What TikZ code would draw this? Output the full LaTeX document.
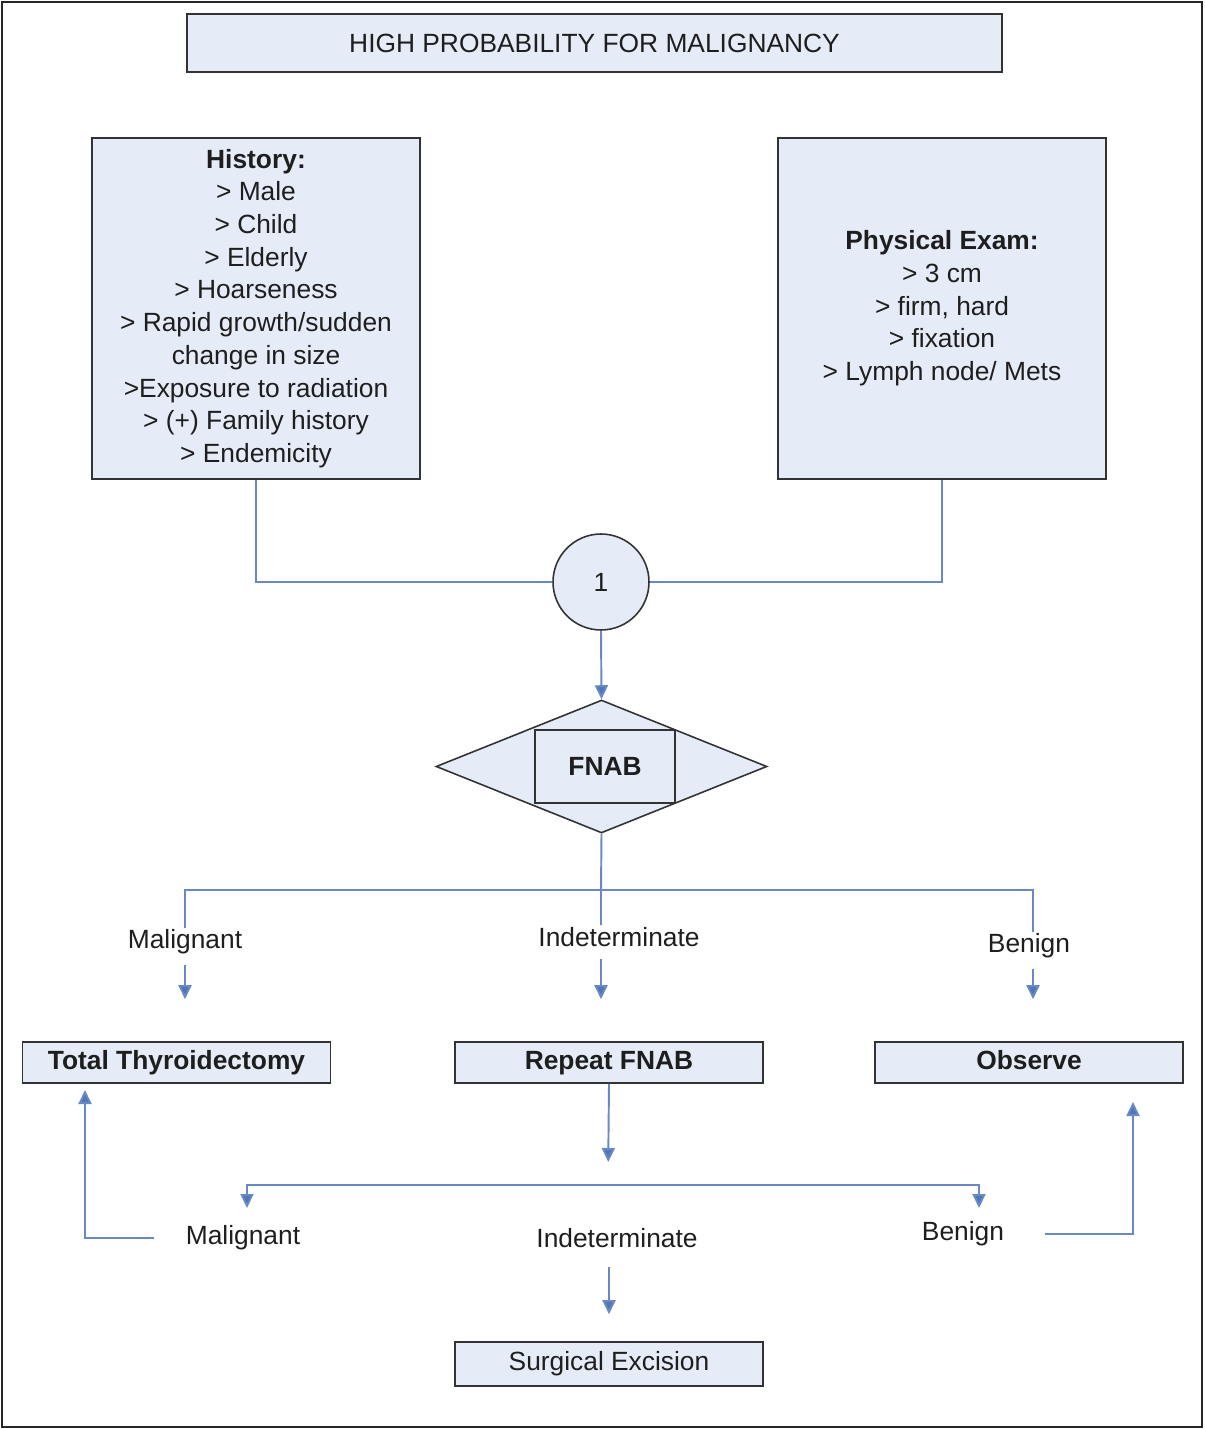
\documentclass[tikz,border=0pt]{standalone}
\usepackage{fontspec}
\setmainfont{Liberation Sans}
\usepackage{xcolor}
\usepackage{tikz}
\usetikzlibrary{arrows.meta, positioning, shapes.geometric}

\definecolor{boxfill}{RGB}{230,236,247}
\definecolor{linkblue}{RGB}{104,137,196}
\definecolor{tipblue}{RGB}{79,118,182}
\definecolor{inkgray}{RGB}{30,30,30}

\begin{document}
\begin{tikzpicture}[
    x=0.02cm, y=-0.02cm,
    every node/.style={font=\fontsize{15}{18.6}\selectfont, text=inkgray},
    box/.style={draw=black!80, fill=boxfill, line width=0.9pt, inner sep=2pt, align=center},
    result/.style={box, minimum width=6.16cm, minimum height=0.82cm, text height=11pt, text depth=3.5pt},
    lbl/.style={fill=white, inner sep=1pt},
    link/.style={draw=linkblue, line width=1.1pt},
    arrow/.style={link, -{Triangle[length=2.8mm, width=2.6mm, fill=tipblue]}},
]
% Outer frame and size
\useasboundingbox (0,0) rectangle (1204,1429);
\draw[line width=1.2pt, black!85] (2,2) rectangle (1202,1427);

% Title
\node[box, minimum width=16.3cm, minimum height=1.16cm] (title) at (594.5,43) {HIGH PROBABILITY FOR MALIGNANCY};

% Findings
\node[box, minimum width=6.56cm, minimum height=6.82cm] (hist) at (256,308.5)
    {\textbf{History:}\\> Male\\> Child\\> Elderly\\> Hoarseness\\> Rapid growth/sudden\\change in size\\>Exposure to radiation\\> (+) Family history\\> Endemicity};
\node[box, minimum width=6.56cm, minimum height=6.82cm] (phys) at (942,308.5)
    {\textbf{Physical Exam:}\\> 3 cm\\> firm, hard\\> fixation\\> Lymph node/ Mets};

% Junction and decision
\node[circle, draw=black!80, fill=boxfill, line width=0.9pt, minimum size=1.92cm, inner sep=0pt] (one) at (601,582) {1};
\node[diamond, draw=black!80, fill=boxfill, line width=0.9pt, minimum width=6.62cm, minimum height=2.66cm, inner sep=0pt] (dec) at (601.5,766.5) {};
\node[box, minimum width=2.8cm, minimum height=1.46cm] (fnab) at (605,766.5) {\textbf{FNAB}};

\draw[link] (hist.south) |- (one.west);
\draw[link] (phys.south) |- (one.east);
\draw[arrow] (one.south) -- (dec.north);

% First FNAB results
\coordinate (split) at (601,890);
\node[lbl] (m1) at (185,942) {Malignant};
\node[lbl] (i1) at (619,937) {Indeterminate};
\node[lbl] (b1) at (1029,946) {Benign};

\node[result] (tt) at (176.5,1062.5) {\textbf{Total Thyroidectomy}};
\node[result] (rep) at (609,1062.5) {\textbf{Repeat FNAB}};
\node[result] (obs) at (1029,1062.5) {\textbf{Observe}};

\draw[link] (dec.south) -- (split) -- (i1.north -| split);
\draw[link] (m1.north) |- (split) -| ([xshift=0.08cm]b1.north);
\draw[arrow, shorten <=0.18cm, shorten >=0.84cm] (m1.south) -- (m1.south |- tt.north);
\draw[arrow, shorten <=0.2cm, shorten >=0.84cm] (i1.south -| split) -- (tt.north -| split);
\draw[arrow, shorten <=0.18cm, shorten >=0.84cm] ([xshift=0.08cm]b1.south) -- ([xshift=0.08cm]b1.south |- obs.north);

% Repeat FNAB results
\coordinate (split2) at (608,1185);
\coordinate (m2in) at (247,1208);
\coordinate (b2in) at (979,1208);
\coordinate (ttin) at (85,1090);
\coordinate (obin) at (1133,1102);
\node[lbl] (m2) at (243,1238) {Malignant};
\node[lbl] (i2) at (617,1238) {Indeterminate};
\node[lbl] (b2) at (963,1234) {Benign};
\node[result, minimum height=0.88cm] (se) at (609,1364) {Surgical Excision};

\draw[arrow, shorten >=0.46cm] (rep.south) -- (split2);
\draw[arrow] (split2) -| (m2in);
\draw[arrow] (split2) -| (b2in);
\draw[arrow, shorten <=0.6cm] (m2.west) -| (ttin);
\draw[arrow, shorten <=0.78cm] (b2.east) -| (obin);
\draw[arrow, shorten <=0.34cm, shorten >=0.54cm] (i2.south -| se.north) -- (se.north);

\end{tikzpicture}
\end{document}
